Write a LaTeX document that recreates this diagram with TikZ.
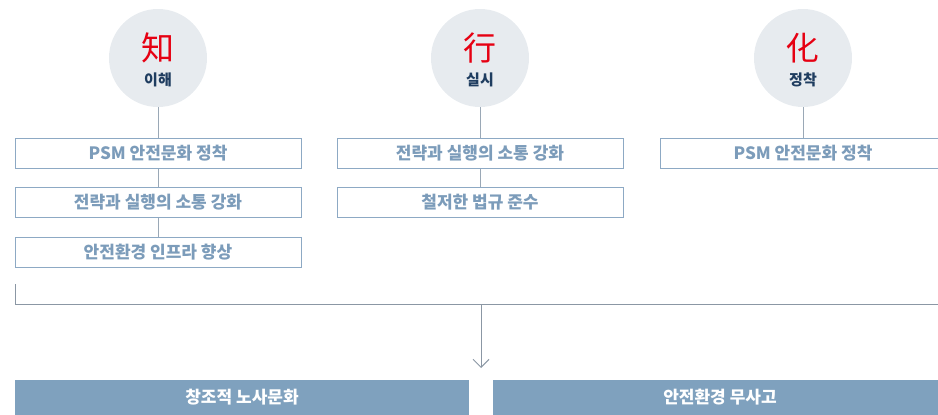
\documentclass[tikz,border=0pt]{standalone}
\usepackage{fontspec}
\setmainfont{Noto Sans CJK KR}
\usepackage{xcolor}
\usetikzlibrary{positioning,arrows.meta}
\definecolor{circfill}{HTML}{E7EBEF}
\definecolor{boxline}{HTML}{8DA9C4}
\definecolor{boxtext}{HTML}{7C9CBA}
\definecolor{barfill}{HTML}{7FA1BE}
\definecolor{linkgray}{HTML}{9AA8B6}
\definecolor{kanjired}{HTML}{E60012}
\definecolor{subnavy}{HTML}{1F3D60}

\begin{document}
\begin{tikzpicture}[x=1pt,y=-1pt,
  circ/.style={circle,fill=circfill,minimum size=98pt,inner sep=0pt},
  kanji/.style={text=kanjired,font=\fontsize{33}{35}\selectfont,inner sep=0pt},
  sub/.style={text=subnavy,font=\fontsize{15}{17}\selectfont\bfseries,inner sep=0pt},
  box/.style={draw=boxline,line width=1pt,fill=white,minimum height=30pt,minimum width=286pt,inner sep=0pt,text=boxtext,font=\fontsize{17}{20}\selectfont\bfseries},
  bar/.style={fill=barfill,minimum height=35pt,minimum width=454pt,inner sep=0pt,text=white,font=\fontsize{17}{20}\selectfont\bfseries},
  link/.style={draw=linkgray,line width=1pt}]
  \useasboundingbox (0,0) rectangle (938,415);

  % circles
  \node[circ] (zhi)  at (158,58) {};
  \node[circ] (xing) at (480,58) {};
  \node[circ] (hua)  at (803,58) {};
  \node[kanji] (zhiK)  at (158,48) {知};
  \node[kanji] (xingK) at (480,48) {行};
  \node[kanji] (huaK)  at (803,48) {化};
  \node[sub] (zhiT)  at (158,80) {이해};
  \node[sub] (xingT) at (480,80) {실시};
  \node[sub] (huaT)  at (803,80) {정착};

  % boxes
  \node[box] (z1) at (158,153) {PSM 안전문화 정착};
  \node[box] (z2) at (158,202) {전략과 실행의 소통 강화};
  \node[box] (z3) at (158,252) {안전환경 인프라 향상};
  \node[box] (x1) at (480,153) {전략과 실행의 소통 강화};
  \node[box] (x2) at (480,202) {철저한 법규 준수};
  \node[box] (h1) at (803,153) {PSM 안전문화 정착};

  \draw[link] (zhi) -- (z1);
  \draw[link] (z1) -- (z2);
  \draw[link] (z2) -- (z3);
  \draw[link] (xing) -- (x1);
  \draw[link] (x1) -- (x2);
  \draw[link] (hua) -- (h1);

  % bracket and arrow
  \coordinate (bTop)   at (15,284);
  \coordinate (bLeft)  at (15,304);
  \coordinate (bRight) at (945,304);
  \coordinate (bMid)   at (481,304);
  \coordinate (aEnd)   at (481,368);
  \draw[link,draw=linkgray!90!black] (bTop) -- (bLeft) -- (bRight);
  \draw[link,draw=linkgray!90!black,-{Straight Barb[length=8pt,width=16pt]}] (bMid) -- (aEnd);

  % bars
  \node[bar] (bar1) at (242,397.5) {창조적 노사문화};
  \node[bar] (bar2) at (720,397.5) {안전환경 무사고};
\end{tikzpicture}
\end{document}
